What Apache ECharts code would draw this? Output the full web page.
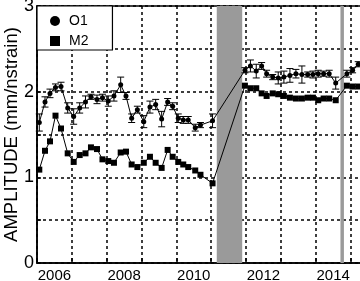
<!DOCTYPE html>
<html>
<head>
<meta charset="utf-8">
<script src="https://cdn.jsdelivr.net/npm/echarts@6/dist/echarts.min.js"></script>
<style>html,body{margin:0;padding:0;background:#fff;overflow:hidden}#c{width:360px;height:281px}</style>
</head>
<body>
<div id="c"></div>
<script>
// observation times (decimal years)
var times = [
  2006.066, 2006.230, 2006.373, 2006.531, 2006.689, 2006.881, 2007.053, 2007.225, 2007.392, 2007.549,
  2007.722, 2007.879, 2008.046, 2008.209, 2008.402, 2008.554, 2008.717, 2008.881, 2009.065, 2009.242,
  2009.406, 2009.578, 2009.750, 2009.894, 2010.054, 2010.198, 2010.341, 2010.542, 2010.692, 2011.039,
  2011.968, 2012.126, 2012.293, 2012.448, 2012.591, 2012.766, 2012.924, 2013.087, 2013.260, 2013.432,
  2013.604, 2013.768, 2013.920, 2014.072, 2014.227, 2014.387, 2014.574, 2014.895, 2015.059, 2015.220
];
// O1 amplitude (mm/nstrain)
var o1 = [
  1.64, 1.88, 1.98, 2.05, 2.06, 1.81, 1.71, 1.81, 1.88, 1.94,
  1.91, 1.93, 1.89, 1.95, 2.08, 1.95, 1.69, 1.79, 1.65, 1.82,
  1.85, 1.68, 1.88, 1.83, 1.69, 1.67, 1.67, 1.58, 1.61, 1.66,
  2.25, 2.30, 2.24, 2.30, 2.21, 2.17, 2.16, 2.17, 2.19, 2.21,
  2.20, 2.20, 2.20, 2.21, 2.21, 2.21, 2.10, 2.21, 2.25, 2.32
];
// O1 error (half-length)
var o1Err = [
  0.10, 0.06, 0.05, 0.04, 0.05, 0.06, 0.09, 0.06, 0.07, 0.03,
  0.05, 0.04, 0.06, 0.06, 0.09, 0.04, 0.05, 0.04, 0.07, 0.07,
  0.06, 0.09, 0.04, 0.04, 0.05, 0.04, 0.04, 0.04, 0.03, 0.08,
  0.03, 0.07, 0.08, 0.04, 0.04, 0.03, 0.07, 0.07, 0.08, 0.05,
  0.10, 0.03, 0.04, 0.04, 0.03, 0.04, 0.07, 0.04, 0.03, 0.03
];
// M2 amplitude (mm/nstrain)
var m2 = [
  1.09, 1.31, 1.42, 1.72, 1.57, 1.28, 1.18, 1.26, 1.28, 1.35,
  1.33, 1.21, 1.19, 1.17, 1.29, 1.30, 1.15, 1.12, 1.17, 1.24,
  1.17, 1.11, 1.32, 1.24, 1.18, 1.15, 1.12, 1.08, 1.03, 0.93,
  2.07, 2.04, 2.04, 1.98, 1.95, 1.98, 1.97, 1.95, 1.93, 1.92,
  1.92, 1.93, 1.93, 1.90, 1.92, 1.92, 1.90, 2.07, 2.06, 2.06
];
// shaded periods
var bands = [[2011.16, 2011.89], [2014.71, 2014.81]];
var yearLabels = [2006, 2008, 2010, 2012, 2014];
var yLabels = [0, 1, 2, 3];

var o1Data = times.map(function (t, i) { return [t, o1[i]]; });
var m2Data = times.map(function (t, i) { return [t, m2[i]]; });
var errData = times.map(function (t, i) { return [t, o1[i] - o1Err[i], o1[i] + o1Err[i]]; });

var FONT = 'Liberation Sans';
var chart = echarts.init(document.getElementById('c'), null, {renderer: 'canvas'});
chart.setOption({
  animation: false,
  backgroundColor: '#fff',
  textStyle: {fontFamily: FONT},
  grid: {left: 37, top: 6, right: -1, bottom: 18, outerBoundsMode: 'none', containLabel: false,
         show: true, borderColor: '#000', borderWidth: 1.5, backgroundColor: 'transparent'},
  legend: {
    left: 37, top: 6, orient: 'vertical',
    backgroundColor: '#fff', borderColor: '#000', borderWidth: 1.2,
    padding: [8, 24, 2, 13],
    itemWidth: 10, itemHeight: 10, itemGap: 6,
    textStyle: {fontFamily: FONT, fontSize: 14, color: '#000', padding: [0, 0, 0, 4]},
    data: [{name: 'O1', icon: 'circle'}, {name: 'M2', icon: 'rect'}]
  },
  xAxis: [{
    type: 'value', min: 2006, max: 2015.3, interval: 1,
    axisLine: {lineStyle: {color: '#000', width: 1.5}},
    axisTick: {inside: true, length: 5, lineStyle: {color: '#000', width: 1.5}},
    axisLabel: {show: false},
    splitLine: {show: true, lineStyle: {color: '#000', width: 1.5, type: [3, 3]}}
  }, {
    type: 'value', min: 2005.5, max: 2014.8, interval: 0.5, position: 'bottom',
    axisLine: {show: false}, axisTick: {show: false}, splitLine: {show: false},
    axisLabel: {
      show: true, margin: 5, fontSize: 15, color: '#000', fontFamily: FONT,
      formatter: function (v) { var r = Math.round(v * 10) / 10; return yearLabels.indexOf(r) >= 0 ? String(r) : ''; }
    }
  }],
  yAxis: {
    type: 'value', min: 0, max: 3, interval: 0.5,
    name: 'AMPLITUDE (mm/nstrain)', nameLocation: 'middle', nameGap: 16, nameMoveOverlap: false,
    nameTextStyle: {fontSize: 18.5, color: '#000', fontFamily: FONT},
    axisLine: {show: true, lineStyle: {color: '#000', width: 1.5}},
    axisTick: {show: true, inside: true, length: 4, lineStyle: {color: '#000', width: 1.5}},
    axisLabel: {
      margin: 3, fontSize: 18, color: '#000', fontFamily: FONT,
      formatter: function (v) { return yLabels.indexOf(v) >= 0 ? String(v) : ''; }
    },
    splitLine: {show: true, lineStyle: {color: '#000', width: 1.5, type: [3, 3]}}
  },
  series: [{
    name: 'bands', type: 'line', data: [], xAxisIndex: 0,
    markArea: {silent: true, itemStyle: {color: '#9a9a9a', opacity: 1},
      data: bands.map(function (b) { return [{xAxis: b[0]}, {xAxis: b[1]}]; })},
    z: 3
  }, {
    name: 'O1err', type: 'custom', xAxisIndex: 0, data: errData, z: 4,
    renderItem: function (params, api) {
      var x = api.value(0);
      var lo = api.coord([x, api.value(1)]);
      var hi = api.coord([x, api.value(2)]);
      var w = 3.5;
      var st = {stroke: '#000', lineWidth: 1};
      return {type: 'group', children: [
        {type: 'line', shape: {x1: lo[0], y1: lo[1], x2: hi[0], y2: hi[1]}, style: st},
        {type: 'line', shape: {x1: lo[0] - w, y1: lo[1], x2: lo[0] + w, y2: lo[1]}, style: st},
        {type: 'line', shape: {x1: hi[0] - w, y1: hi[1], x2: hi[0] + w, y2: hi[1]}, style: st}
      ]};
    }
  }, {
    name: 'O1', type: 'line', xAxisIndex: 0, data: o1Data, z: 5,
    symbol: 'circle', symbolSize: 5, showAllSymbol: true,
    lineStyle: {color: '#000', width: 1}, itemStyle: {color: '#000', borderWidth: 0}
  }, {
    name: 'M2', type: 'line', xAxisIndex: 0, data: m2Data, z: 5,
    symbol: 'rect', symbolSize: 6, showAllSymbol: true,
    lineStyle: {color: '#000', width: 1}, itemStyle: {color: '#000', borderWidth: 0}
  }]
});
</script>
</body>
</html>
